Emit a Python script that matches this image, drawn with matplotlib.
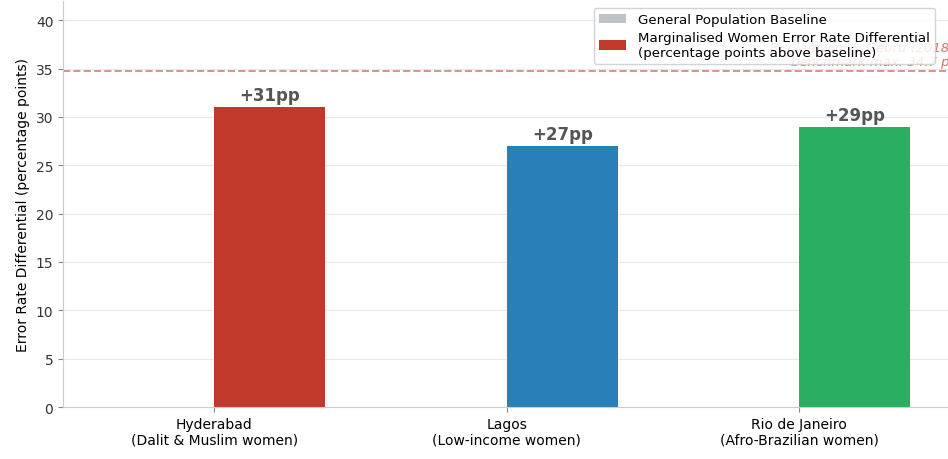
import numpy as np
import matplotlib.pyplot as plt

# data
cities = ['Hyderabad\n(Dalit & Muslim women)', 'Lagos\n(Low-income women)',
          'Rio de Janeiro\n(Afro-Brazilian women)']
baseline = [0, 0, 0]
differential = [31, 27, 29]
bar_colors = ['#c0392b', '#2980b9', '#27ae60']
benchmark_max = 34.7

fig = plt.figure(figsize=(9.48, 4.6), dpi=100)
ax = fig.add_axes([0.0665, 0.113, 0.936, 0.883])

x = np.arange(len(cities))
w = 0.38
ax.bar(x - w / 2, baseline, w, color='#bdc3c7', label='General Population Baseline')
bars = ax.bar(x + w / 2, differential, w, color=bar_colors,
              label='Marginalised Women Error Rate Differential\n(percentage points above baseline)')

# value labels
for b, v in zip(bars, differential):
    ax.text(b.get_x() + b.get_width() / 2, v + 0.3, '+%dpp' % v,
            ha='center', va='bottom', fontsize=12, fontweight='bold', color='#555555')

# benchmark line
ax.axhline(benchmark_max, color='#c0392b', linestyle='--', linewidth=1.4, alpha=0.55)
ax.text(2.545, benchmark_max + 0.35, 'Buolamwini & Gebru (2018),\nbenchmark max: %.1f pp' % benchmark_max,
        ha='right', va='bottom', fontsize=9.5, style='italic', color='#c0392b', alpha=0.7,
        linespacing=1.1)

ax.set_xticks(x)
ax.set_xticklabels(cities, fontsize=10)
ax.set_ylim(0, 42)
ax.set_yticks(range(0, 41, 5))
ax.tick_params(axis='y', labelsize=10, colors='#333333')
ax.tick_params(axis='both', color='#888888')
ax.set_ylabel('Error Rate Differential (percentage points)', fontsize=10)
ax.yaxis.grid(True, color='#e8e8e8', linewidth=0.8)
ax.set_axisbelow(True)
for s in ['top', 'right']:
    ax.spines[s].set_visible(False)
for s in ['left', 'bottom']:
    ax.spines[s].set_color('#cccccc')

leg = ax.legend(loc='upper right', bbox_to_anchor=(0.99, 1.0), fontsize=9.6, framealpha=0.85,
                labelspacing=0.35, borderpad=0.4, handletextpad=0.9)

fig.savefig('out.png', dpi=100)
